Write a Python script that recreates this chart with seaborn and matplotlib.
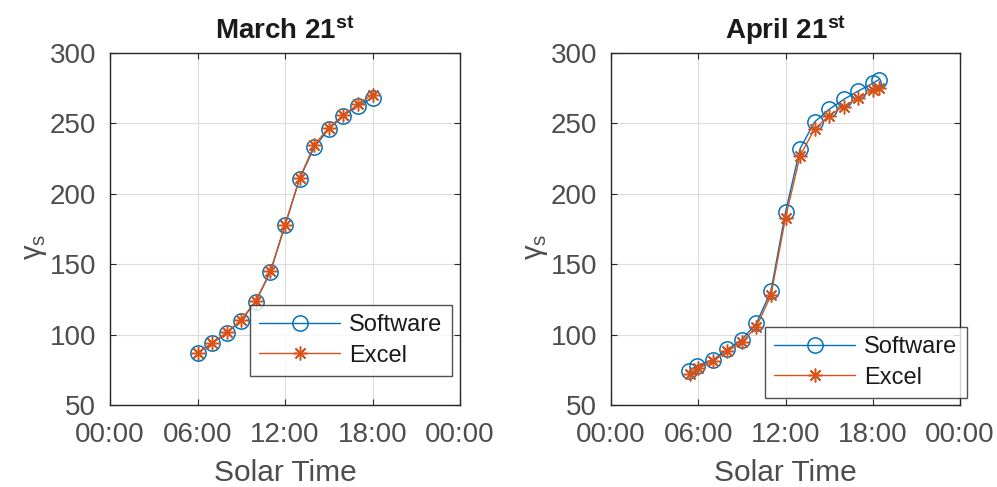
import matplotlib
matplotlib.use("Agg")
import matplotlib.pyplot as plt
import seaborn as sns
import pandas as pd

# Solar azimuth-related angle gamma_s over the day (hours of solar time)
march_hours_sw = [6, 7, 8, 9, 10, 11, 12, 13, 14, 15, 16, 17, 18]
march_software = [87, 94, 101, 110, 123.5, 144.5, 177.5, 210.5, 233, 246, 255.5, 262.5, 268]
march_hours_xl = [6, 7, 8, 9, 10, 11, 12, 13, 14, 15, 16, 17, 18]
march_excel = [87, 94, 101.5, 110.5, 124, 145, 178, 211, 234.5, 247, 256, 263.5, 270.5]

april_hours_sw = [5.35, 5.9, 7, 8, 9, 10, 11, 12, 13, 14, 15, 16, 17, 18, 18.4]
april_software = [73.8, 78, 82, 89.5, 96.5, 108, 131, 187, 232, 251, 260, 267, 273, 278.5, 281]
april_hours_xl = [5.4, 6, 7, 8, 9, 10, 11, 12, 13, 14, 15, 16, 17, 18, 18.4]
april_excel = [72, 76, 81, 88, 94.8, 105.5, 128, 183, 227, 246, 255.5, 262, 268, 273.5, 275]

x_ticks = [0, 6, 12, 18, 24]
x_tick_labels = ["00:00", "06:00", "12:00", "18:00", "00:00"]
y_ticks = [50, 100, 150, 200, 250, 300]
titles = ["March 21", "April 21"]
series_names = ["Software", "Excel"]

BLUE = "#0072BD"
ORANGE = "#D95319"
AXIS = "#262626"
TICKTXT = "#4d4d4d"

sns.set_theme(style="white")
plt.rcParams["font.family"] = ["Liberation Sans", "DejaVu Sans"]
plt.rcParams["mathtext.fontset"] = "custom"
plt.rcParams["mathtext.rm"] = "Liberation Sans"
plt.rcParams["mathtext.it"] = "Liberation Sans:italic"
plt.rcParams["mathtext.bf"] = "Liberation Sans:bold"

fig = plt.figure(figsize=(9.97, 4.87), dpi=100)
W, H = 997, 487
ax_boxes = [(110, 53, 460, 405), (611, 53, 960, 405)]
legend_anchor = [(250, 305), (765, 327)]

datasets = [
    (march_hours_sw, march_software, march_hours_xl, march_excel),
    (april_hours_sw, april_software, april_hours_xl, april_excel),
]

for i, (box, data) in enumerate(zip(ax_boxes, datasets)):
    x0, y0, x1, y1 = box
    ax = fig.add_axes([x0 / W, 1 - y1 / H, (x1 - x0) / W, (y1 - y0) / H])
    hs, vs, hx, vx = data
    df_sw = pd.DataFrame({"hour": hs, "gamma": vs})
    df_xl = pd.DataFrame({"hour": hx, "gamma": vx})
    sns.lineplot(data=df_sw, x="hour", y="gamma", ax=ax, color=BLUE, lw=1.0,
                 marker="o", markersize=11, markerfacecolor="none",
                 markeredgecolor=BLUE, markeredgewidth=1.1, label=series_names[0])
    sns.lineplot(data=df_xl, x="hour", y="gamma", ax=ax, color=ORANGE, lw=1.0,
                 marker=(8, 2, 0), markersize=10, markeredgecolor=ORANGE,
                 markeredgewidth=1.1, label=series_names[1])

    ax.set_xlim(0, 24)
    ax.set_ylim(50, 300)
    ax.set_xticks(x_ticks)
    ax.set_xticklabels(x_tick_labels)
    ax.set_yticks(y_ticks)
    ax.grid(True, color="#dcdcdc", lw=0.8)
    ax.set_axisbelow(True)
    for s in ax.spines.values():
        s.set_color(AXIS)
        s.set_linewidth(1.0)
        s.set_visible(True)
    ax.tick_params(axis="both", direction="in", length=4, width=0.8, color=AXIS,
                   labelsize=20, labelcolor=TICKTXT, top=True, right=True,
                   bottom=True, left=True)
    ax.tick_params(axis="x", pad=12)
    ax.tick_params(axis="y", pad=10)
    ax.set_xlabel("Solar Time", fontsize=21.5, color=TICKTXT, labelpad=8)
    ax.set_ylabel(r"$\mathrm{\gamma_s}$", fontsize=21, color=TICKTXT)
    ax.yaxis.set_label_coords(-0.175, 0.45)
    ax.set_title(titles[i] + r"$^{\mathbf{st}}$", fontsize=20, fontweight="bold",
                 color="#1a1a1a", pad=10)

    lx, ly = legend_anchor[i]
    leg = ax.legend(loc="upper left", bbox_to_anchor=(lx / W, 1 - ly / H),
                    bbox_transform=fig.transFigure, borderaxespad=0,
                    fontsize=17, handlelength=3.4, handletextpad=0.4,
                    borderpad=0.4, labelspacing=0.35, frameon=True, fancybox=False)
    leg.get_frame().set_edgecolor(AXIS)
    leg.get_frame().set_linewidth(1.0)
    for t in leg.get_texts():
        t.set_color("#1a1a1a")

fig.savefig("out.png", dpi=100)
